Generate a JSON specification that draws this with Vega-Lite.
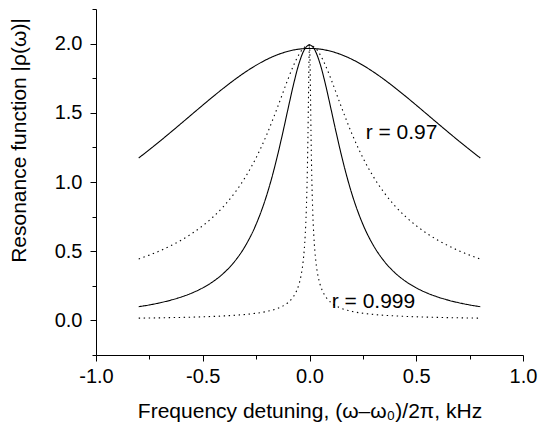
{
  "$schema": "https://vega.github.io/schema/vega-lite/v6.json",
  "width": 427,
  "height": 346,
  "autosize": {"type": "none"},
  "padding": {"left": 96, "top": 9, "right": 16, "bottom": 72},
  "background": "white",
  "config": {
    "view": {"stroke": null},
    "font": "Liberation Sans",
    "axis": {"grid": false, "domainColor": "black", "tickColor": "black", "labelColor": "black", "titleColor": "black", "titleFontWeight": "normal", "labelFont": "Liberation Sans", "titleFont": "Liberation Sans"}
  },
  "datasets": {
    "curves": [
      {"curve": "c1", "x": -0.8, "y": 1.1734}, {"curve": "c1", "x": -0.75, "y": 1.2336}, {"curve": "c1", "x": -0.7, "y": 1.2957}, {"curve": "c1", "x": -0.65, "y": 1.3595}, {"curve": "c1", "x": -0.6, "y": 1.4245}, {"curve": "c1", "x": -0.55, "y": 1.4899}, {"curve": "c1", "x": -0.5, "y": 1.5552}, {"curve": "c1", "x": -0.45, "y": 1.6193}, {"curve": "c1", "x": -0.4, "y": 1.6814}, {"curve": "c1", "x": -0.35, "y": 1.7403}, {"curve": "c1", "x": -0.3, "y": 1.7947}, {"curve": "c1", "x": -0.25, "y": 1.8435}, {"curve": "c1", "x": -0.2, "y": 1.8855}, {"curve": "c1", "x": -0.15, "y": 1.9195}, {"curve": "c1", "x": -0.1, "y": 1.9445}, {"curve": "c1", "x": -0.05, "y": 1.960}, {"curve": "c1", "x": 0, "y": 1.965},
      {"curve": "c1", "x": 0.05, "y": 1.960}, {"curve": "c1", "x": 0.1, "y": 1.9445}, {"curve": "c1", "x": 0.15, "y": 1.9195}, {"curve": "c1", "x": 0.2, "y": 1.8855}, {"curve": "c1", "x": 0.25, "y": 1.8435}, {"curve": "c1", "x": 0.3, "y": 1.7947}, {"curve": "c1", "x": 0.35, "y": 1.7403}, {"curve": "c1", "x": 0.4, "y": 1.6814}, {"curve": "c1", "x": 0.45, "y": 1.6193}, {"curve": "c1", "x": 0.5, "y": 1.5552}, {"curve": "c1", "x": 0.55, "y": 1.4899}, {"curve": "c1", "x": 0.6, "y": 1.4245}, {"curve": "c1", "x": 0.65, "y": 1.3595}, {"curve": "c1", "x": 0.7, "y": 1.2957}, {"curve": "c1", "x": 0.75, "y": 1.2336}, {"curve": "c1", "x": 0.8, "y": 1.1734},

      {"curve": "c2", "x": -0.8, "y": 0.4438}, {"curve": "c2", "x": -0.75, "y": 0.4717}, {"curve": "c2", "x": -0.7, "y": 0.5033}, {"curve": "c2", "x": -0.65, "y": 0.5393}, {"curve": "c2", "x": -0.6, "y": 0.5805}, {"curve": "c2", "x": -0.55, "y": 0.6283}, {"curve": "c2", "x": -0.5, "y": 0.6840}, {"curve": "c2", "x": -0.45, "y": 0.7497}, {"curve": "c2", "x": -0.4, "y": 0.8279}, {"curve": "c2", "x": -0.35, "y": 0.9221}, {"curve": "c2", "x": -0.3, "y": 1.0363}, {"curve": "c2", "x": -0.25, "y": 1.1754}, {"curve": "c2", "x": -0.2, "y": 1.3434}, {"curve": "c2", "x": -0.15, "y": 1.5390}, {"curve": "c2", "x": -0.1, "y": 1.7463}, {"curve": "c2", "x": -0.075, "y": 1.8414}, {"curve": "c2", "x": -0.05, "y": 1.9196}, {"curve": "c2", "x": -0.025, "y": 1.9717}, {"curve": "c2", "x": 0, "y": 1.99},
      {"curve": "c2", "x": 0.025, "y": 1.9717}, {"curve": "c2", "x": 0.05, "y": 1.9196}, {"curve": "c2", "x": 0.075, "y": 1.8414}, {"curve": "c2", "x": 0.1, "y": 1.7463}, {"curve": "c2", "x": 0.15, "y": 1.5390}, {"curve": "c2", "x": 0.2, "y": 1.3434}, {"curve": "c2", "x": 0.25, "y": 1.1754}, {"curve": "c2", "x": 0.3, "y": 1.0363}, {"curve": "c2", "x": 0.35, "y": 0.9221}, {"curve": "c2", "x": 0.4, "y": 0.8279}, {"curve": "c2", "x": 0.45, "y": 0.7497}, {"curve": "c2", "x": 0.5, "y": 0.6840}, {"curve": "c2", "x": 0.55, "y": 0.6283}, {"curve": "c2", "x": 0.6, "y": 0.5805}, {"curve": "c2", "x": 0.65, "y": 0.5393}, {"curve": "c2", "x": 0.7, "y": 0.5033}, {"curve": "c2", "x": 0.75, "y": 0.4717}, {"curve": "c2", "x": 0.8, "y": 0.4438},

      {"curve": "c3", "x": -0.8, "y": 0.0990}, {"curve": "c3", "x": -0.75, "y": 0.1118}, {"curve": "c3", "x": -0.7, "y": 0.1273}, {"curve": "c3", "x": -0.65, "y": 0.1462}, {"curve": "c3", "x": -0.6, "y": 0.1694}, {"curve": "c3", "x": -0.55, "y": 0.1984}, {"curve": "c3", "x": -0.5, "y": 0.2351}, {"curve": "c3", "x": -0.45, "y": 0.2824}, {"curve": "c3", "x": -0.4, "y": 0.3444}, {"curve": "c3", "x": -0.35, "y": 0.4272}, {"curve": "c3", "x": -0.3, "y": 0.5397}, {"curve": "c3", "x": -0.25, "y": 0.6943}, {"curve": "c3", "x": -0.2, "y": 0.9069}, {"curve": "c3", "x": -0.175, "y": 1.0395}, {"curve": "c3", "x": -0.15, "y": 1.1903}, {"curve": "c3", "x": -0.125, "y": 1.3569}, {"curve": "c3", "x": -0.1, "y": 1.5324}, {"curve": "c3", "x": -0.075, "y": 1.7038}, {"curve": "c3", "x": -0.05, "y": 1.8518}, {"curve": "c3", "x": -0.025, "y": 1.9535}, {"curve": "c3", "x": 0, "y": 1.99},
      {"curve": "c3", "x": 0.025, "y": 1.9535}, {"curve": "c3", "x": 0.05, "y": 1.8518}, {"curve": "c3", "x": 0.075, "y": 1.7038}, {"curve": "c3", "x": 0.1, "y": 1.5324}, {"curve": "c3", "x": 0.125, "y": 1.3569}, {"curve": "c3", "x": 0.15, "y": 1.1903}, {"curve": "c3", "x": 0.175, "y": 1.0395}, {"curve": "c3", "x": 0.2, "y": 0.9069}, {"curve": "c3", "x": 0.25, "y": 0.6943}, {"curve": "c3", "x": 0.3, "y": 0.5397}, {"curve": "c3", "x": 0.35, "y": 0.4272}, {"curve": "c3", "x": 0.4, "y": 0.3444}, {"curve": "c3", "x": 0.45, "y": 0.2824}, {"curve": "c3", "x": 0.5, "y": 0.2351}, {"curve": "c3", "x": 0.55, "y": 0.1984}, {"curve": "c3", "x": 0.6, "y": 0.1694}, {"curve": "c3", "x": 0.65, "y": 0.1462}, {"curve": "c3", "x": 0.7, "y": 0.1273}, {"curve": "c3", "x": 0.75, "y": 0.1118}, {"curve": "c3", "x": 0.8, "y": 0.0990},

      {"curve": "c4", "x": -0.8, "y": 0.0162}, {"curve": "c4", "x": -0.7, "y": 0.0186}, {"curve": "c4", "x": -0.6, "y": 0.0217}, {"curve": "c4", "x": -0.5, "y": 0.0260}, {"curve": "c4", "x": -0.4, "y": 0.0325}, {"curve": "c4", "x": -0.3, "y": 0.0433}, {"curve": "c4", "x": -0.2, "y": 0.0649}, {"curve": "c4", "x": -0.15, "y": 0.0865}, {"curve": "c4", "x": -0.1, "y": 0.1297}, {"curve": "c4", "x": -0.08, "y": 0.1619}, {"curve": "c4", "x": -0.06, "y": 0.2153}, {"curve": "c4", "x": -0.05, "y": 0.2577}, {"curve": "c4", "x": -0.04, "y": 0.3206}, {"curve": "c4", "x": -0.03, "y": 0.4233}, {"curve": "c4", "x": -0.025, "y": 0.5030}, {"curve": "c4", "x": -0.02, "y": 0.6179}, {"curve": "c4", "x": -0.015, "y": 0.7948}, {"curve": "c4", "x": -0.01, "y": 1.0894}, {"curve": "c4", "x": -0.0075, "y": 1.3092}, {"curve": "c4", "x": -0.005, "y": 1.5845}, {"curve": "c4", "x": -0.0025, "y": 1.8658}, {"curve": "c4", "x": 0, "y": 1.999},
      {"curve": "c4", "x": 0.0025, "y": 1.8658}, {"curve": "c4", "x": 0.005, "y": 1.5845}, {"curve": "c4", "x": 0.0075, "y": 1.3092}, {"curve": "c4", "x": 0.01, "y": 1.0894}, {"curve": "c4", "x": 0.015, "y": 0.7948}, {"curve": "c4", "x": 0.02, "y": 0.6179}, {"curve": "c4", "x": 0.025, "y": 0.5030}, {"curve": "c4", "x": 0.03, "y": 0.4233}, {"curve": "c4", "x": 0.04, "y": 0.3206}, {"curve": "c4", "x": 0.05, "y": 0.2577}, {"curve": "c4", "x": 0.06, "y": 0.2153}, {"curve": "c4", "x": 0.08, "y": 0.1619}, {"curve": "c4", "x": 0.1, "y": 0.1297}, {"curve": "c4", "x": 0.15, "y": 0.0865}, {"curve": "c4", "x": 0.2, "y": 0.0649}, {"curve": "c4", "x": 0.3, "y": 0.0433}, {"curve": "c4", "x": 0.4, "y": 0.0325}, {"curve": "c4", "x": 0.5, "y": 0.0260}, {"curve": "c4", "x": 0.6, "y": 0.0217}, {"curve": "c4", "x": 0.7, "y": 0.0186}, {"curve": "c4", "x": 0.8, "y": 0.0162}
    ],
    "labels": [
      {"label": "r = 0.97", "x": 0.263, "y": 1.357},
      {"label": "r = 0.999", "x": 0.104, "y": 0.132}
    ]
  },
  "resolve": {"axis": {"x": "independent", "y": "independent"}},
  "layer": [
    {
      "data": {"name": "curves"},
      "mark": {"type": "line", "color": "black", "strokeWidth": 1.1, "interpolate": "monotone", "clip": true},
      "encoding": {
        "x": {
          "field": "x", "type": "quantitative",
          "scale": {"domain": [-1, 1], "nice": false, "zero": false},
          "axis": {
            "orient": "bottom",
            "values": [-1, -0.5, 0, 0.5, 1],
            "format": ".1f",
            "labelExpr": "replace(datum.label, '−', '-')",
            "tickSize": 6,
            "labelFontSize": 20,
            "labelPadding": 5,
            "labelFlush": false,
            "labelOverlap": false,
            "title": "Frequency detuning, (ω–ω₀)/2π, kHz",
            "titleFontSize": 21,
            "titleX": 213.5,
            "titleY": 62,
            "titleAlign": "center",
            "titleBaseline": "alphabetic"
          }
        },
        "y": {
          "field": "y", "type": "quantitative",
          "scale": {"domain": [-0.25, 2.25], "nice": false, "zero": false},
          "axis": {
            "orient": "left",
            "values": [0, 0.5, 1, 1.5, 2],
            "format": ".1f",
            "labelExpr": "replace(datum.label, '−', '-')",
            "tickSize": 6,
            "labelFontSize": 20,
            "labelPadding": 8,
            "labelFlush": false,
            "labelOverlap": false,
            "title": "Resonance function |ρ(ω)|",
            "titleFontSize": 21,
            "titleAngle": -90,
            "titleX": -70.5,
            "titleY": 131,
            "titleAlign": "center",
            "titleBaseline": "alphabetic"
          }
        },
        "detail": {"field": "curve"},
        "strokeDash": {
          "field": "curve", "type": "nominal",
          "scale": {"domain": ["c1", "c2", "c3", "c4"], "range": [[1, 0], [1.4, 3.6], [1, 0], [1.4, 3.6]]},
          "legend": null
        }
      }
    },
    {
      "data": {"name": "labels"},
      "mark": {"type": "text", "align": "left", "baseline": "middle", "fontSize": 21, "font": "Liberation Sans", "color": "black"},
      "encoding": {
        "x": {
          "field": "x", "type": "quantitative",
          "axis": {"orient": "bottom", "values": [-0.75, -0.25, 0.25, 0.75], "tickSize": 4, "labels": false, "domain": false, "title": null}
        },
        "y": {
          "field": "y", "type": "quantitative",
          "axis": {"orient": "left", "values": [-0.25, 0.25, 0.75, 1.25, 1.75, 2.25], "tickSize": 4, "labels": false, "domain": false, "title": null}
        },
        "text": {"field": "label"}
      }
    }
  ]
}
